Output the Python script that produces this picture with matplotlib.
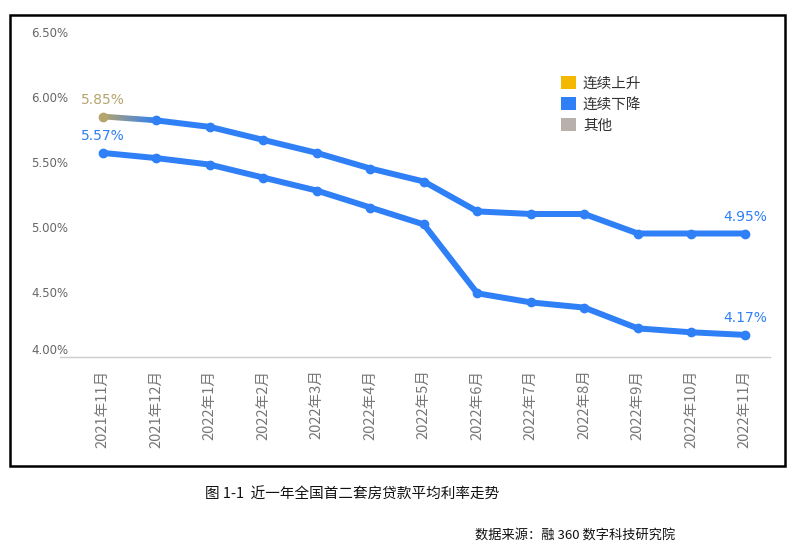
import numpy as np
import matplotlib
matplotlib.use("Agg")
import matplotlib.pyplot as plt
from matplotlib.patches import Patch, Rectangle, Polygon

plt.rcParams['font.family'] = ['Noto Sans CJK SC', 'DejaVu Sans']

# data
months = ['2021年11月', '2021年12月', '2022年1月', '2022年2月', '2022年3月', '2022年4月',
          '2022年5月', '2022年6月', '2022年7月', '2022年8月', '2022年9月', '2022年10月', '2022年11月']
second_home = [5.85, 5.82, 5.77, 5.67, 5.57, 5.45, 5.35, 5.12, 5.10, 5.10, 4.95, 4.95, 4.95]
first_home = [5.57, 5.53, 5.48, 5.38, 5.28, 5.15, 5.02, 4.49, 4.42, 4.38, 4.22, 4.19, 4.17]
y_ticks = [4.0, 4.5, 5.0, 5.5, 6.0, 6.5]
legend_names = ['连续上升', '连续下降', '其他']

blue = '#2f7ff6'
tan = '#b5a46c'
legend_colors = ['#f4b800', '#2f7ff6', '#b8b0aa']

fig = plt.figure(figsize=(8, 5.6), dpi=100)
ax = fig.add_axes([0.075, 1 - 357 / 560, 0.8875, 325 / 560])

x = np.arange(len(months))

# lines
ax.plot(x[1:], second_home[1:], color=blue, lw=4.3, marker='o', ms=6,
        solid_capstyle='round', zorder=3)
ax.plot(x, first_home, color=blue, lw=4.3, marker='o', ms=6,
        solid_capstyle='round', zorder=3)

# first segment of upper line: tan -> blue gradient
half = 0.022
seg = Polygon([[x[0], second_home[0] - half], [x[1], second_home[1] - half],
               [x[1], second_home[1] + half], [x[0], second_home[0] + half]],
              closed=True, facecolor='none', edgecolor='none', transform=ax.transData)
ax.add_patch(seg)
c0 = np.array(matplotlib.colors.to_rgb(tan))
c1 = np.array(matplotlib.colors.to_rgb(blue))
t = np.linspace(0, 1, 64)[None, :, None]
grad = c0 + (c1 - c0) * t
im = ax.imshow(grad, extent=[x[0], x[1], 4.0, 6.5], aspect='auto', zorder=3,
               interpolation='bilinear')
im.set_clip_path(seg)
ax.plot(x[0], second_home[0], 'o', color=tan, ms=6, zorder=4)

# value labels
lab_kw = dict(ha='center', va='bottom', fontsize=10, family=['DejaVu Sans'])
ax.annotate(f'{second_home[0]:.2f}%', (x[0], second_home[0]), xytext=(0, 7),
            textcoords='offset points', color=tan, **lab_kw)
ax.annotate(f'{first_home[0]:.2f}%', (x[0], first_home[0]), xytext=(0, 7),
            textcoords='offset points', color=blue, **lab_kw)
ax.annotate(f'{second_home[-1]:.2f}%', (x[-1], second_home[-1]), xytext=(0, 7),
            textcoords='offset points', color=blue, **lab_kw)
ax.annotate(f'{first_home[-1]:.2f}%', (x[-1], first_home[-1]), xytext=(0, 7),
            textcoords='offset points', color=blue, **lab_kw)

# axes styling
ax.set_xlim(-0.8, 12.47)
ax.set_ylim(4.0, 6.5)
ax.set_yticks(y_ticks)
ax.set_yticklabels([f'{v:.2f}%' for v in y_ticks], fontsize=8.5, color='#666666',
                   family=['DejaVu Sans'])
ax.get_yticklabels()[0].set_va('bottom')
ax.set_xticks(x)
ax.set_xticklabels(months, rotation=90, va='top', ha='center', fontsize=10.5, color='#777777')
ax.tick_params(length=0, axis='both')
ax.tick_params(axis='y', pad=-6)
ax.tick_params(axis='x', pad=9)
for s in ['left', 'right', 'top']:
    ax.spines[s].set_visible(False)
ax.spines['bottom'].set_color('#cccccc')
ax.spines['bottom'].set_linewidth(1)
ax.patch.set_alpha(0)

# legend
handles = [Patch(facecolor=c, edgecolor='none') for c in legend_colors]
fig.legend(handles, legend_names, loc='upper left', bbox_to_anchor=(0.685, 0.888),
           frameon=False, fontsize=10.5, handlelength=1.0, handleheight=1.0,
           handletextpad=0.5, labelspacing=0.45, labelcolor='#333333')

# outer frame
fig.patches.append(Rectangle((10 / 800, 1 - 466 / 560), 775 / 800, 451 / 560,
                             transform=fig.transFigure, fill=False,
                             edgecolor='black', lw=1.8))

# caption and source
fig.text(352 / 800, 1 - 495 / 560, '图 1-1  近一年全国首二套房贷款平均利率走势',
         ha='center', va='center', fontsize=10.5, color='#111111')
fig.text(575 / 800, 1 - 536 / 560, '数据来源：融 360 数字科技研究院', ha='center', va='center',
         fontsize=9.5, color='#111111')

fig.savefig('out.png', dpi=100)
